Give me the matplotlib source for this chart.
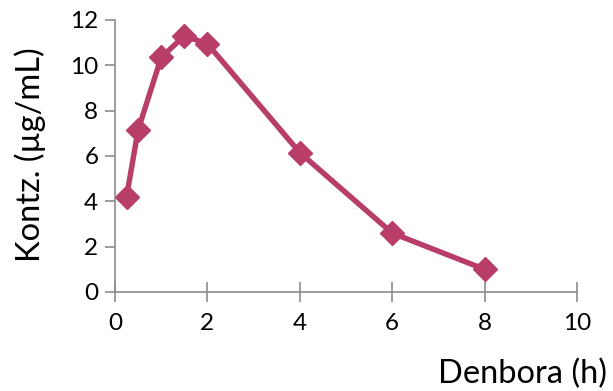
import matplotlib.pyplot as plt

# concentration over time
hours = [0.25, 0.5, 1, 1.5, 2, 4, 6, 8]
conc = [4.2, 7.15, 10.35, 11.3, 10.95, 6.15, 2.6, 1.0]

x_ticks = [0, 2, 4, 6, 8, 10]
y_ticks = [0, 2, 4, 6, 8, 10, 12]

plt.rcParams['font.family'] = ['Lato', 'DejaVu Sans']

fig = plt.figure(figsize=(6.13, 3.91), dpi=100)
ax = fig.add_axes([115 / 613, (391 - 292) / 391, (577 - 115) / 613, (292 - 20) / 391])

ax.plot(hours, conc, color='#B83D68', lw=3.9, marker='D', ms=12,
        markeredgecolor='#B83D68', solid_joinstyle='miter')

ax.set_xlim(0, 10)
ax.set_ylim(0, 12)
ax.set_xticks(x_ticks)
ax.set_yticks(y_ticks)

for s in ['top', 'right']:
    ax.spines[s].set_visible(False)
for s in ['left', 'bottom']:
    ax.spines[s].set_color('#8c8c8c')
    ax.spines[s].set_linewidth(1.2)

ax.tick_params(axis='x', direction='inout', length=14, width=1.2, color='#8c8c8c',
               labelsize=17.5, pad=8)
ax.tick_params(axis='y', direction='out', length=7, width=1.2, color='#8c8c8c',
               labelsize=17.5, pad=5)

fig.text(30 / 613, (391 - 155) / 391, 'Kontz. (µg/mL)', rotation=90, fontsize=23.5,
         ha='center', va='center')
fig.text(607 / 613, (391 - 374) / 391, 'Denbora (h)', fontsize=23.5, ha='right', va='center')

fig.savefig('out.png', dpi=100)
